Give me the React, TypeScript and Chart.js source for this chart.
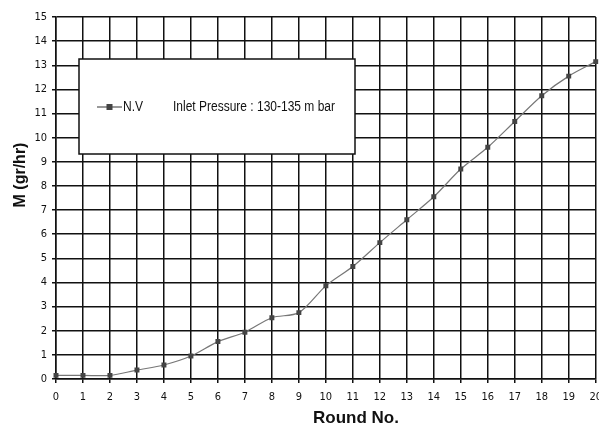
import React, { useEffect, useRef } from "react";
import { Chart, registerables } from "chart.js";

Chart.register(...registerables);

const rounds = ["0","1","2","3","4","5","6","7","8","9","10","11","12","13","14","15","16","17","18","19","20"];
const nvValues = [0.15,0.15,0.15,0.37,0.58,0.95,1.55,1.94,2.54,2.75,3.86,4.66,5.65,6.6,7.55,8.7,9.6,10.67,11.74,12.55,13.15];
const seriesName = "N.V";
const legendNote = "Inlet Pressure : 130-135 m bar";
const yTitle = "M (gr/hr)";
const xTitle = "Round No.";

const NARROW = '"Liberation Sans Narrow", "Arial Narrow", "DejaVu Sans Condensed", sans-serif';
const BOLD = '"Liberation Sans", Arial, sans-serif';

const overlayPlugin = {
  id: "overlay",
  afterDraw(chart: any) {
    const ctx = chart.ctx;
    ctx.save();
    // legend box
    ctx.fillStyle = "#fff";
    ctx.fillRect(79, 59, 276, 95);
    ctx.strokeStyle = "#111";
    ctx.lineWidth = 1.5;
    ctx.strokeRect(79, 59, 276, 95);
    ctx.strokeStyle = "#555";
    ctx.lineWidth = 1.2;
    ctx.beginPath();
    ctx.moveTo(97, 107);
    ctx.lineTo(122, 107);
    ctx.stroke();
    ctx.fillStyle = "#444";
    ctx.fillRect(106.5, 104, 6, 6);
    ctx.fillStyle = "#111";
    ctx.font = "14px " + BOLD;
    ctx.textBaseline = "middle";
    ctx.textAlign = "left";
    ctx.save();
    ctx.translate(123, 107);
    ctx.scale(0.86, 1);
    ctx.fillText(seriesName, 0, 0);
    ctx.restore();
    ctx.save();
    ctx.translate(173, 107);
    const w = ctx.measureText(legendNote).width;
    ctx.scale(162 / w, 1);
    ctx.fillText(legendNote, 0, 0);
    ctx.restore();
    // axis titles
    ctx.font = "bold 17px " + BOLD;
    ctx.textAlign = "center";
    ctx.fillText(xTitle, 356, 418);
    ctx.translate(21, 175);
    ctx.rotate(-Math.PI / 2);
    ctx.font = "bold 16px " + BOLD;
    ctx.fillText(yTitle, 0, 0);
    ctx.restore();
  },
};

export default function App() {
  const ref = useRef<HTMLCanvasElement>(null);
  useEffect(() => {
    document.body.style.margin = "0";
    const chart = new Chart(ref.current!, {
      type: "line",
      data: {
        labels: rounds,
        datasets: [
          {
            label: seriesName,
            data: nvValues,
            borderColor: "#777",
            borderWidth: 1.2,
            tension: 0.3,
            pointStyle: "rect",
            pointRadius: 3.5,
            pointBackgroundColor: "#444",
            pointBorderColor: "#444",
            pointBorderWidth: 0,
          },
        ],
      },
      options: {
        animation: false,
        responsive: false,
        layout: { padding: { top: 17, right: 8, left: 0, bottom: 0 } },
        plugins: { legend: { display: false }, tooltip: { enabled: false } },
        scales: {
          x: {
            offset: false,
            grid: { color: "#111", lineWidth: 1.5, tickLength: 4 },
            border: { color: "#111", width: 1.5 },
            ticks: {
              color: "#111",
              font: { family: NARROW, size: 11 },
              padding: 8,
              maxRotation: 0,
              autoSkip: false,
            },
            afterFit(scale: any) {
              scale.height = 53;
            },
          },
          y: {
            min: 0,
            max: 15,
            grid: { color: "#111", lineWidth: 1.5, tickLength: 4 },
            border: { color: "#111", width: 1.5 },
            ticks: {
              stepSize: 1,
              color: "#111",
              font: { family: NARROW, size: 11 },
              padding: 5,
            },
            afterFit(scale: any) {
              scale.width = 56;
            },
          },
        },
      },
      plugins: [overlayPlugin],
    });
    return () => chart.destroy();
  }, []);
  return (
    <div style={{ position: "fixed", left: 0, top: 0, width: 599, height: 432, overflow: "hidden", background: "#fff" }}>
      <canvas ref={ref} width={610} height={432} style={{ display: "block" }} />
    </div>
  );
}
